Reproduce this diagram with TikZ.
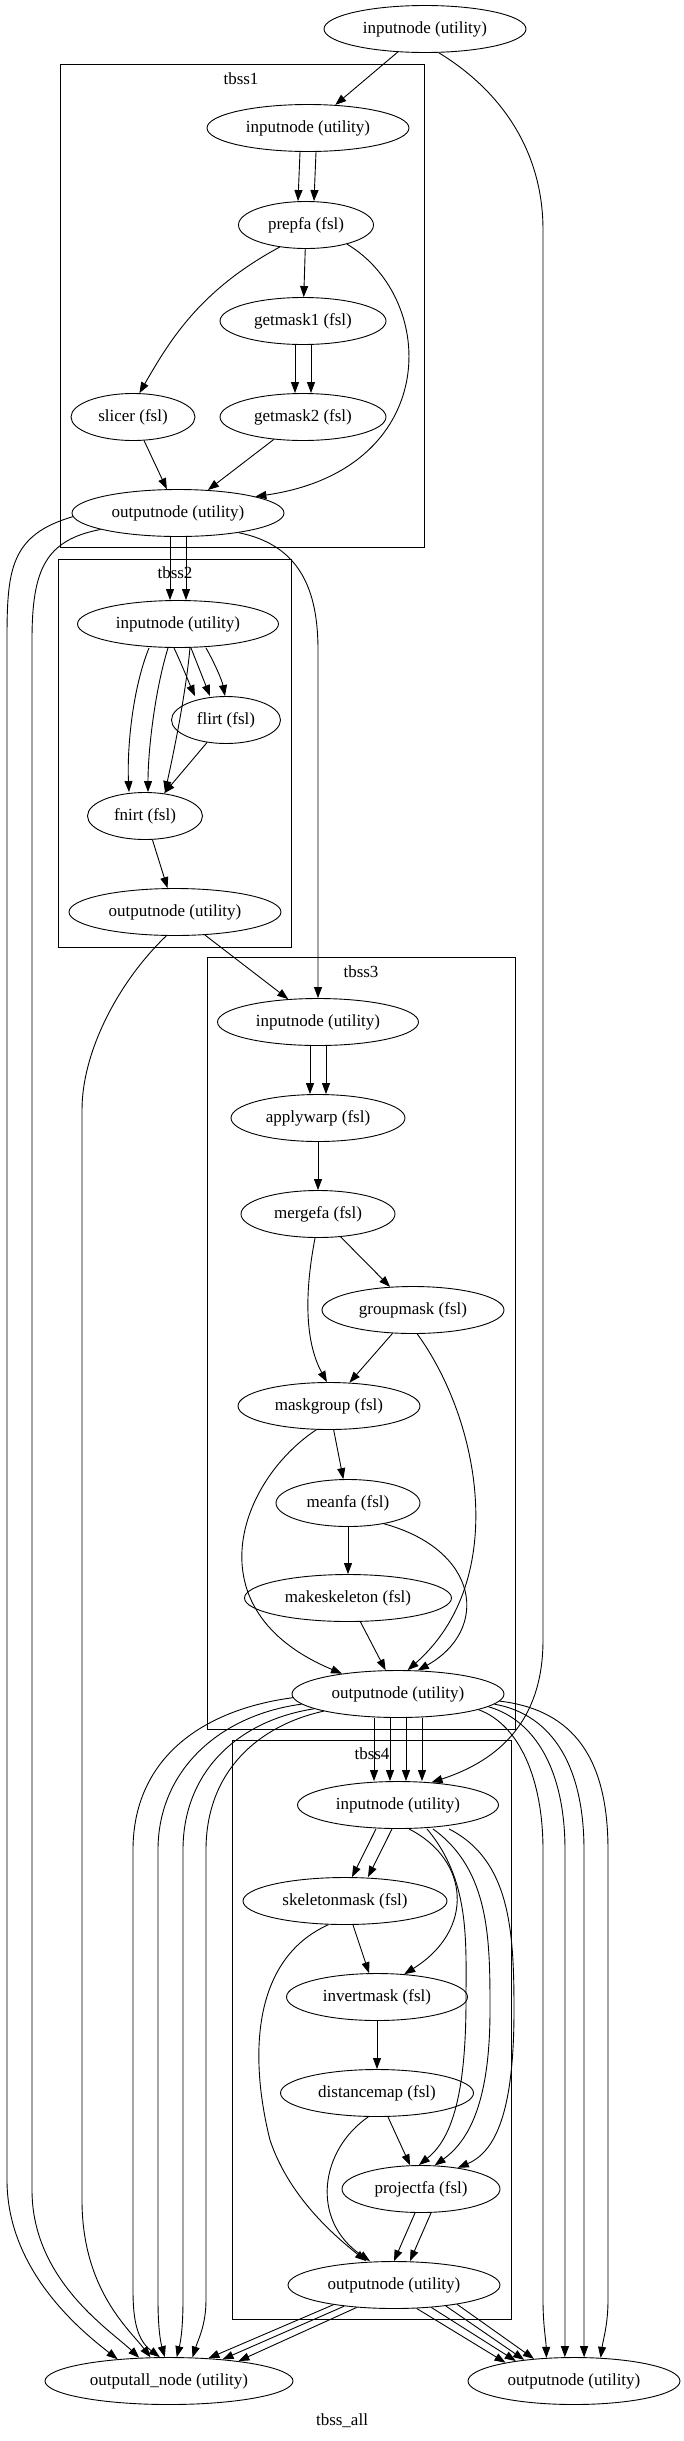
\documentclass[tikz,border=0pt]{standalone}
\usepackage{fontspec}
\setmainfont{Liberation Serif}
\usetikzlibrary{shapes.geometric,arrows.meta}
\begin{document}
\begin{tikzpicture}[x=1pt,y=-1pt,
  n/.style={ellipse,draw,line width=0.9pt,inner sep=0pt,minimum height=47pt,font=\fontsize{17}{20}\selectfont},
  e/.style={-{Triangle[length=11pt,width=8pt]},line width=0.9pt},
  box/.style={draw,line width=1pt},
  lab/.style={font=\fontsize{17}{20}\selectfont}]
\useasboundingbox (0,0) rectangle (683,2441);
% clusters
\draw[box] (60,64) rectangle (424,547);
\node[lab] (l1) at (241,79) {tbss1};
\draw[box] (58,559) rectangle (291,947);
\node[lab] (l2) at (175,573) {tbss2};
\draw[box] (207,957) rectangle (515,1729);
\node[lab] (l3) at (361,972) {tbss3};
\draw[box] (232,1740) rectangle (511,2319);
\node[lab] (l4) at (372,1754) {tbss4};
\node[lab] (lall) at (342,2421) {tbss\_all};
% nodes
\node[n,minimum width=202] (top) at (425,29) {inputnode (utility)};
\node[n,minimum width=202] (t1in) at (308,128) {inputnode (utility)};
\node[n,minimum width=135] (prepfa) at (306,225) {prepfa (fsl)};
\node[n,minimum width=166] (gm1) at (303,321) {getmask1 (fsl)};
\node[n,minimum width=124] (slicer) at (133,417) {slicer (fsl)};
\node[n,minimum width=166] (gm2) at (303,417) {getmask2 (fsl)};
\node[n,minimum width=212] (t1out) at (178,513) {outputnode (utility)};
\node[n,minimum width=201] (t2in) at (178,624) {inputnode (utility)};
\node[n,minimum width=109] (flirt) at (226,720) {flirt (fsl)};
\node[n,minimum width=115] (fnirt) at (145,816) {fnirt (fsl)};
\node[n,minimum width=212] (t2out) at (175,912) {outputnode (utility)};
\node[n,minimum width=201] (t3in) at (318,1022) {inputnode (utility)};
\node[n,minimum width=174] (aw) at (318,1118) {applywarp (fsl)};
\node[n,minimum width=154] (mf) at (318,1214) {mergefa (fsl)};
\node[n,minimum width=182] (gmask) at (413,1310) {groupmask (fsl)};
\node[n,minimum width=182] (mg) at (329,1406) {maskgroup (fsl)};
\node[n,minimum width=144] (mean) at (348,1503) {meanfa (fsl)};
\node[n,minimum width=207] (msk) at (348,1598) {makeskeleton (fsl)};
\node[n,minimum width=212] (t3out) at (398,1694) {outputnode (utility)};
\node[n,minimum width=201] (t4in) at (398,1805) {inputnode (utility)};
\node[n,minimum width=204] (skm) at (345,1901) {skeletonmask (fsl)};
\node[n,minimum width=181] (inv) at (377,1997) {invertmask (fsl)};
\node[n,minimum width=193] (dist) at (377,2093) {distancemap (fsl)};
\node[n,minimum width=158] (proj) at (421,2189) {projectfa (fsl)};
\node[n,minimum width=212] (t4out) at (394,2285) {outputnode (utility)};
\node[n,minimum width=248] (outall) at (169,2381) {outputall\_node (utility)};
\node[n,minimum width=212] (final) at (574,2381) {outputnode (utility)};
% tbss1 edges
\draw[e] (top) -- (t1in);
\draw[e] (top.-60) .. controls (500,90) and (543,150) .. (543,230) -- (543,1640) .. controls (543,1720) and (500,1760) .. (t4in.34);
\draw[e] ([xshift=-8]t1in.south) -- ([xshift=-8]prepfa.north);
\draw[e] ([xshift=8]t1in.south) -- ([xshift=8]prepfa.north);
\draw[e] (prepfa) -- (gm1);
\draw[e] (prepfa.-140) .. controls (200,290) and (170,340) .. (slicer.75);
\draw[e] (prepfa.-25) .. controls (440,300) and (440,470) .. (t1out.12);
\draw[e] ([xshift=-8]gm1.south) -- ([xshift=-8]gm2.north);
\draw[e] ([xshift=8]gm1.south) -- ([xshift=8]gm2.north);
\draw[e] (slicer) -- (t1out);
\draw[e] (gm2) -- (t1out);
\draw[e] ([xshift=-8]t1out.south) -- ([xshift=-8]t2in.north);
\draw[e] ([xshift=8]t1out.south) -- ([xshift=8]t2in.north);
\draw[e] (t1out.-178) .. controls (10,535) and (7,570) .. (7,640) -- (7,2180) .. controls (7,2270) and (80,2330) .. (outall.157);
\draw[e] (t1out.-168) .. controls (45,540) and (32,570) .. (32,640) -- (32,2190) .. controls (32,2280) and (110,2330) .. (outall.142);
\draw[e] (t1out.-18) .. controls (300,545) and (318,590) .. (318,650) -- (t3in.north);
% tbss2 edges
\draw[e] ([xshift=-29]t2in.south) .. controls (132,690) and (127,750) .. ([xshift=-16]fnirt.north);
\draw[e] ([xshift=-10]t2in.south) .. controls (155,690) and (148,750) .. ([xshift=3]fnirt.north);
\draw[e] ([xshift=12]t2in.south) .. controls (185,700) and (172,760) .. ([xshift=20]fnirt.north);
\draw[e] ([xshift=-4]t2in.south) .. controls (182,665) and (190,685) .. ([xshift=-31]flirt.north);
\draw[e] ([xshift=13]t2in.south) -- ([xshift=-16]flirt.north);
\draw[e] ([xshift=28]t2in.south) .. controls (214,662) and (222,680) .. ([xshift=-1]flirt.north);
\draw[e] (flirt) -- (fnirt);
\draw[e] (fnirt) -- (t2out);
\draw[e] (t2out) -- (t3in);
\draw[e] (t2out.-110) .. controls (120,980) and (82,1050) .. (82,1110) -- (82,2200) .. controls (82,2290) and (130,2330) .. (outall.128);
% tbss3 edges
\draw[e] ([xshift=-8]t3in.south) -- ([xshift=-8]aw.north);
\draw[e] ([xshift=8]t3in.south) -- ([xshift=8]aw.north);
\draw[e] (aw) -- (mf);
\draw[e] (mf) -- (gmask);
\draw[e] (mf.-97) .. controls (305,1290) and (304,1340) .. (mg.95);
\draw[e] (gmask) -- (mg);
\draw[e] (gmask.-80) .. controls (480,1420) and (510,1580) .. (t3out.68);
\draw[e] (mg) -- (mean);
\draw[e] (mg.-118) .. controls (240,1480) and (190,1610) .. (t3out.160);
\draw[e] (mean) -- (msk);
\draw[e] (mean.-30) .. controls (480,1550) and (490,1630) .. (t3out.50);
\draw[e] (msk) -- (t3out);
% tbss3 -> tbss4
\foreach \s in {-24,-8,8,24}
  \draw[e] ([xshift=\s]t3out.south) -- ([xshift=\s]t4in.north);
% tbss3 -> outall
\draw[e] (t3out.-178) .. controls (200,1710) and (133,1760) .. (133,1850) -- (133,2290) .. controls (133,2320) and (137,2340) .. (outall.111);
\draw[e] (t3out.-174) .. controls (220,1715) and (158,1770) .. (158,1850) -- (158,2300) .. controls (158,2325) and (160,2340) .. (outall.100);
\draw[e] (t3out.-170) .. controls (240,1720) and (183,1770) .. (183,1850) -- (183,2300) .. controls (183,2325) and (181,2340) .. (outall.72);
\draw[e] (t3out.-167) .. controls (260,1725) and (206,1770) .. (206,1850) -- (206,2300) .. controls (206,2325) and (198,2340) .. (outall.45);
% tbss3 -> final
\draw[e] (t3out.-11) .. controls (520,1725) and (543,1780) .. (543,1850) -- (543,2300) .. controls (543,2325) and (546,2340) .. (final.140);
\draw[e] (t3out.-8) .. controls (535,1720) and (565,1770) .. (565,1850) -- (565,2300) .. controls (565,2325) and (565,2340) .. (final.111);
\draw[e] (t3out.-6) .. controls (555,1715) and (584,1770) .. (584,1850) -- (584,2300) .. controls (584,2325) and (584,2340) .. (final.67);
\draw[e] (t3out.-4) .. controls (575,1710) and (608,1760) .. (608,1850) -- (608,2300) .. controls (608,2325) and (603,2340) .. (final.41);
% tbss4 edges
\draw[e] ([xshift=-22]t4in.south) -- ([xshift=7]skm.north);
\draw[e] ([xshift=-6]t4in.south) -- ([xshift=23]skm.north);
\draw[e] ([xshift=11]t4in.south) .. controls (470,1860) and (475,1930) .. (inv.40);
\draw[e] ([xshift=29]t4in.south) .. controls (470,1880) and (466,1940) .. (466,2000) .. controls (466,2100) and (450,2140) .. (proj.95);
\draw[e] ([xshift=35]t4in.south) .. controls (490,1870) and (490,1940) .. (490,2010) .. controls (490,2100) and (470,2140) .. (proj.60);
\draw[e] ([xshift=51]t4in.south) .. controls (510,1860) and (514,1930) .. (514,2010) .. controls (514,2100) and (500,2150) .. (proj.30);
\draw[e] (skm) -- (inv);
\draw[e] (skm.-125) .. controls (250,1960) and (250,2060) .. (270,2140) .. controls (290,2200) and (340,2240) .. ([xshift=-28]t4out.north);
\draw[e] (inv) -- (dist);
\draw[e] (dist) -- (proj);
\draw[e] (dist.-110) .. controls (320,2150) and (310,2220) .. ([xshift=-24]t4out.north);
\draw[e] ([xshift=-6]proj.south) -- ([xshift=0]t4out.north);
\draw[e] ([xshift=10]proj.south) -- ([xshift=16]t4out.north);
% tbss4 -> outputs
\draw[e] (t4out.-162) -- (outall.30);
\draw[e] (t4out.-157) -- (outall.22);
\draw[e] (t4out.-149) -- (outall.16);
\draw[e] (t4out.-46) -- (final.165);
\draw[e] (t4out.-31) -- (final.161);
\draw[e] (t4out.-22) -- (final.157);
\draw[e] (t4out.-17) -- (final.151);
\end{tikzpicture}
\end{document}
